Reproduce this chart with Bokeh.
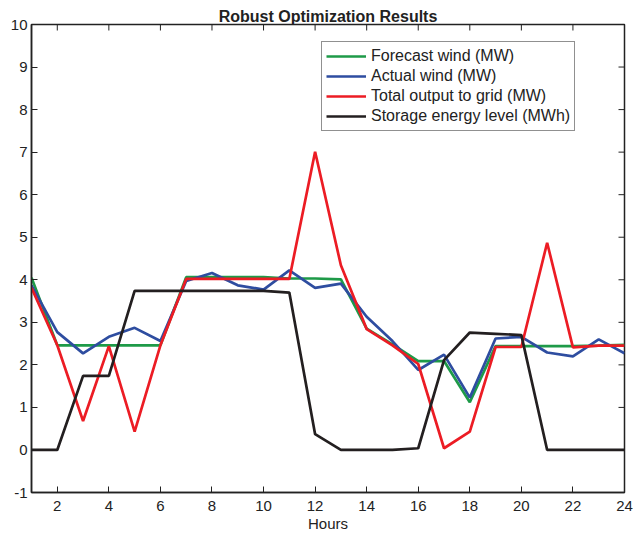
import math

from bokeh.plotting import figure
from bokeh.models import Range1d, FixedTicker, Legend, LegendItem, LinearAxis
from bokeh.embed import file_html
from bokeh.resources import INLINE

# Data
hours = list(range(1, 25))
forecast_wind = [4.05, 2.46, 2.46, 2.46, 2.46, 2.46, 4.06, 4.06, 4.06, 4.06, 4.03, 4.03,
                 4.01, 2.85, 2.48, 2.09, 2.09, 1.12, 2.44, 2.44, 2.44, 2.44, 2.45, 2.47]
actual_wind = [3.87, 2.77, 2.27, 2.66, 2.87, 2.56, 3.97, 4.16, 3.87, 3.77, 4.22, 3.81,
               3.91, 3.13, 2.56, 1.88, 2.24, 1.23, 2.62, 2.66, 2.29, 2.20, 2.60, 2.27]
total_output = [3.81, 2.46, 0.68, 2.44, 0.43, 2.46, 4.02, 4.02, 4.02, 4.02, 4.02, 7.01,
                4.34, 2.84, 2.46, 2.02, 0.04, 0.43, 2.42, 2.42, 4.87, 2.41, 2.45, 2.45]
storage_level = [0.0, 0.0, 1.74, 1.74, 3.74, 3.74, 3.74, 3.74, 3.74, 3.74, 3.70, 0.37,
                 0.0, 0.0, 0.0, 0.04, 2.11, 2.76, 2.73, 2.70, 0.0, 0.0, 0.0, 0.0]

x_ticks = list(range(2, 25, 2))
y_ticks = list(range(-1, 11))
x_lo, x_hi = 1, 24
y_lo, y_hi = -1, 10

FONT = "Liberation Sans"
INK = "#222222"

p = figure(width=633, height=539, output_backend="svg", toolbar_location=None,
           x_range=Range1d(x_lo, x_hi), y_range=Range1d(y_lo, y_hi),
           title="Robust Optimization Results",
           min_border_left=31, min_border_right=9, min_border_top=24, min_border_bottom=47)
p.grid.visible = False
p.outline_line_color = INK
p.outline_line_width = 1.5

p.title.align = "center"
p.title.text_font = FONT
p.title.text_font_size = "16px"
p.title.text_font_style = "bold"
p.title.text_color = INK
p.title.offset = 0
p.title.standoff = 0

# bottom / left axes, ticks pointing inward
xa = p.below[0]
ya = p.left[0]
for ax in (xa, ya):
    ax.major_tick_in = 6
    ax.major_tick_out = 0
    ax.minor_tick_in = 0
    ax.minor_tick_out = 0
    ax.axis_line_color = INK
    ax.axis_line_width = 1.5
    ax.major_tick_line_color = INK
    ax.major_label_text_font = FONT
    ax.major_label_text_font_size = "15px"
    ax.major_label_text_color = INK
    ax.major_label_standoff = 4
xa.ticker = FixedTicker(ticks=x_ticks)
ya.ticker = FixedTicker(ticks=y_ticks)
ya.major_label_overrides = {t: str(t) for t in y_ticks}
xa.major_label_standoff = 8
xa.axis_label = "Hours"
xa.axis_label_text_font = FONT
xa.axis_label_text_font_size = "15px"
xa.axis_label_text_font_style = "normal"
xa.axis_label_text_color = INK
xa.axis_label_standoff = 1

# empty spacer axis pushes the title up, away from the frame
spacer = LinearAxis(ticker=FixedTicker(ticks=[]), axis_line_color=None,
                    major_tick_in=0, major_tick_out=8, major_tick_line_color=None,
                    minor_tick_in=0, minor_tick_out=0, major_label_standoff=0)
p.add_layout(spacer, "above")

# box ticks on top and right edges (dash markers clipped by the frame)
p.scatter(x_ticks, [y_hi] * len(x_ticks), marker="dash", size=12, angle=math.pi / 2,
          line_color=INK, line_width=1)
p.scatter([x_hi] * len(y_ticks), y_ticks, marker="dash", size=12,
          line_color=INK, line_width=1)

r1 = p.line(hours, forecast_wind, line_color="#1e9a48", line_width=2.7)
r2 = p.line(hours, actual_wind, line_color="#2e4da0", line_width=2.7)
r3 = p.line(hours, total_output, line_color="#ec1c24", line_width=2.7)
r4 = p.line(hours, storage_level, line_color="#231f20", line_width=2.7)

legend = Legend(items=[
    LegendItem(label="Forecast wind (MW)", renderers=[r1]),
    LegendItem(label="Actual wind (MW)", renderers=[r2]),
    LegendItem(label="Total output to grid (MW)", renderers=[r3]),
    LegendItem(label="Storage energy level (MWh)", renderers=[r4]),
], location=(290, 361))
legend.label_text_font = FONT
legend.label_text_font_size = "16px"
legend.label_text_color = INK
legend.glyph_width = 40
legend.glyph_height = 20
legend.label_height = 20
legend.label_standoff = 5
legend.spacing = 0
legend.padding = 4
legend.margin = 0
legend.border_line_color = INK
legend.border_line_width = 1.2
legend.background_fill_alpha = 1.0
p.add_layout(legend, "center")

open("out.html", "w").write(file_html(p, INLINE))
